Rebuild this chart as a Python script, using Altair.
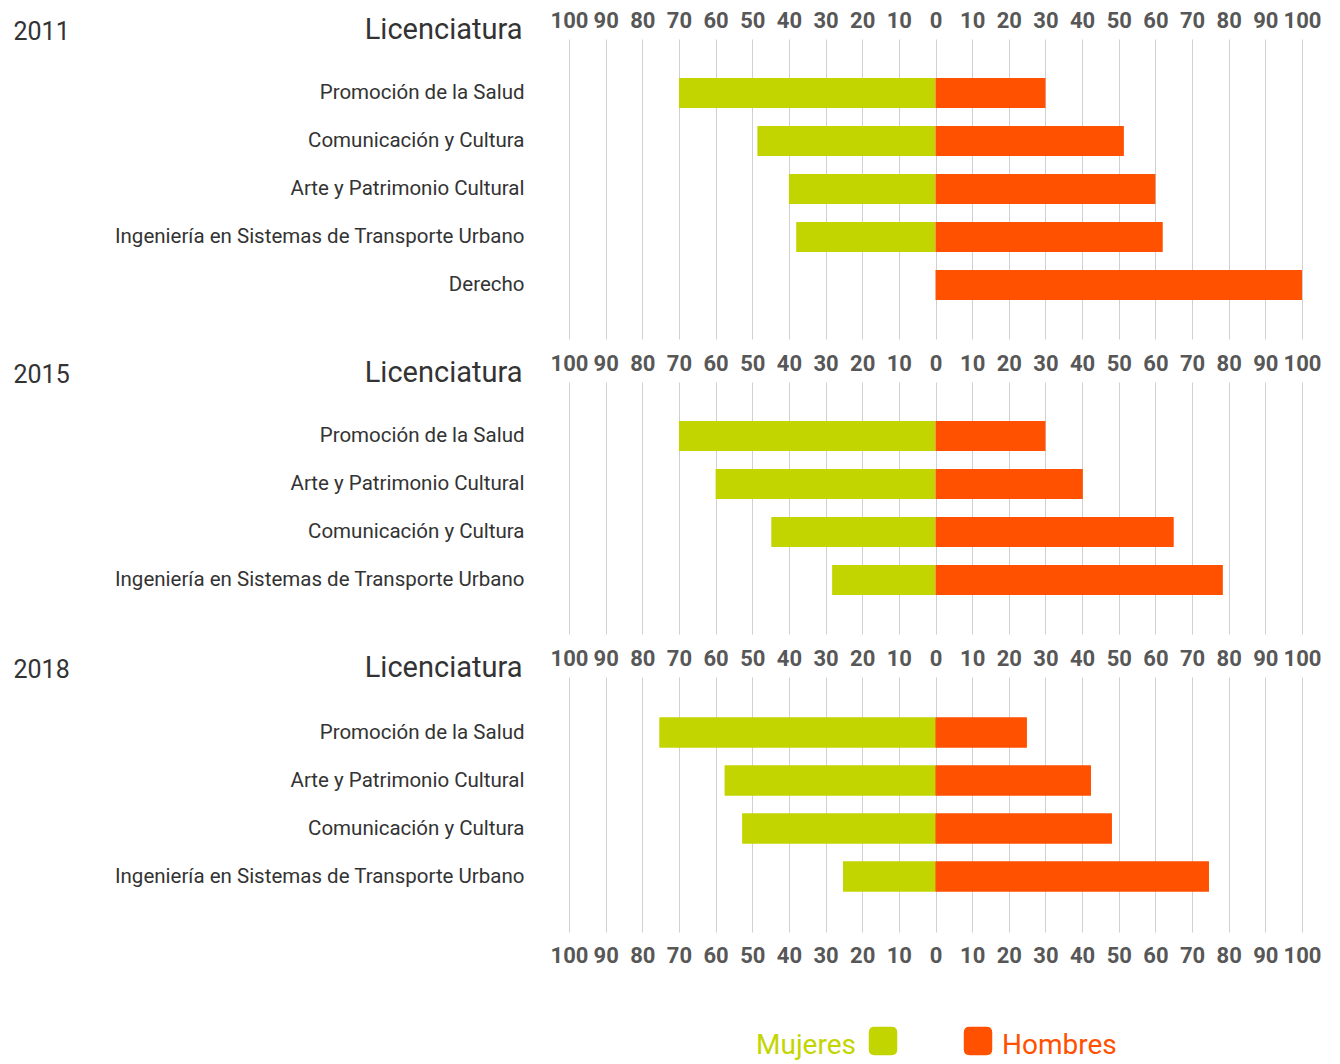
import altair as alt
import pandas as pd

# ---------------- data ----------------
SEXOS = ["Mujeres", "Hombres"]
COLORES = ["#C3D500", "#FF5100"]

LIC_2011 = ["Promoción de la Salud", "Comunicación y Cultura", "Arte y Patrimonio Cultural",
            "Ingeniería en Sistemas de Transporte Urbano", "Derecho"]
MUJ_2011 = [70, 48.6, 40, 38, 0]
HOM_2011 = [30, 51.4, 60, 62, 100]

LIC_2015 = ["Promoción de la Salud", "Arte y Patrimonio Cultural", "Comunicación y Cultura",
            "Ingeniería en Sistemas de Transporte Urbano"]
MUJ_2015 = [70, 60, 44.8, 28.2]
HOM_2015 = [30, 40.2, 65, 78.4]

LIC_2018 = ["Promoción de la Salud", "Arte y Patrimonio Cultural", "Comunicación y Cultura",
            "Ingeniería en Sistemas de Transporte Urbano"]
MUJ_2018 = [75.3, 57.5, 52.7, 25.2]
HOM_2018 = [24.9, 42.4, 48.1, 74.6]

TICKS = list(range(-100, 101, 10))

FONT = "Roboto"
GRID = "#d0d0d0"
TICK_COLOR = "#575757"
TEXT_COLOR = "#333333"


def top_axis(year):
    return alt.Axis(orient="top", values=TICKS, labelExpr="abs(datum.value)",
                    grid=True, gridColor=GRID, gridWidth=1, domain=False, ticks=False,
                    tickSize=0, labelPadding=7, labelFont=FONT, labelFontSize=22,
                    labelFontWeight="bold", labelColor=TICK_COLOR, labelOverlap=False,
                    labelFlush=False,
                    title=year, titleX=-556, titleY=0, titleAlign="left", titleAngle=0,
                    titleBaseline="alphabetic", titleFont=FONT, titleFontSize=25,
                    titleFontWeight="normal", titleColor=TEXT_COLOR)


def bottom_axis():
    return alt.Axis(orient="bottom", values=TICKS, labelExpr="abs(datum.value)",
                    grid=False, domain=False, ticks=False, tickSize=0, labelPadding=13,
                    labelFont=FONT, labelFontSize=22, labelFontWeight="bold",
                    labelColor=TICK_COLOR, labelOverlap=False, labelFlush=False, title="")


def y_axis():
    return alt.Axis(title="Licenciatura", titleX=-47, titleY=-1, titleAlign="right",
                    titleAngle=0, titleBaseline="alphabetic", titleFont=FONT,
                    titleFontSize=29, titleFontWeight="normal", titleColor=TEXT_COLOR,
                    labelPadding=45, labelFont=FONT, labelFontSize=20.5, labelColor=TEXT_COLOR,
                    labelLimit=0, domain=False, ticks=False, tickSize=0, grid=False)


def panel(year, lics, muj, hom, with_bottom=False):
    df = pd.DataFrame({
        "lic": list(lics) * 2,
        "sexo": ["Mujeres"] * len(lics) + ["Hombres"] * len(lics),
        "valor": list(muj) + list(hom),
    })
    base = alt.Chart(df).transform_calculate(
        x_ini="datum.sexo == 'Mujeres' ? -datum.valor : 0",
        x_fin="datum.sexo == 'Mujeres' ? 0 : datum.valor",
    )
    xscale = alt.Scale(domain=[-100, 100], nice=False, zero=False)
    color = alt.Color("sexo:N", scale=alt.Scale(domain=SEXOS, range=COLORES), legend=None)
    if not with_bottom:
        yscale = alt.Scale(paddingInner=0.375, paddingOuter=0.8125)
        return base.mark_bar().encode(
            x=alt.X("x_ini:Q", scale=xscale, axis=top_axis(year)),
            x2="x_fin:Q",
            y=alt.Y("lic:N", sort=list(lics), scale=yscale, axis=y_axis()),
            color=color,
        ).properties(width=733, height=alt.Step(48))
    yscale = alt.Scale(paddingInner=0.375, paddingOuter=0.84375)
    bars = base.mark_bar().encode(
        x=alt.X("x_ini:Q", scale=xscale, axis=top_axis(year)),
        x2="x_fin:Q",
        y=alt.Y("lic:N", sort=list(lics), scale=yscale, axis=y_axis()),
        color=color,
    )
    bars2 = base.mark_bar().encode(
        x=alt.X("x_ini:Q", scale=xscale, axis=bottom_axis()),
        x2="x_fin:Q",
        y=alt.Y("lic:N", sort=list(lics), scale=yscale, axis=None),
        color=color,
    )
    return alt.layer(bars, bars2).resolve_axis(x="independent", y="independent").properties(
        width=733, height=255)


# legend (custom: label left of swatch for Mujeres, right for Hombres)
ROUNDED = ("M -0.6,-1 L 0.6,-1 Q 1,-1 1,-0.6 L 1,0.6 Q 1,1 0.6,1 L -0.6,1 "
           "Q -1,1 -1,0.6 L -1,-0.6 Q -1,-1 -0.6,-1 Z")
leg_df = pd.DataFrame({"sexo": SEXOS})
leg_x = alt.X("sexo:N", sort=SEXOS, axis=None,
              scale=alt.Scale(domain=SEXOS, range=[314, 409], padding=0))
leg_color = alt.Color("sexo:N", scale=alt.Scale(domain=SEXOS, range=COLORES), legend=None)
leg_base = alt.Chart(leg_df).encode(x=leg_x, color=leg_color)
swatch = leg_base.mark_point(shape=ROUNDED, size=810, filled=True, opacity=1)
txt_m = leg_base.transform_filter("datum.sexo == 'Mujeres'").mark_text(
    align="right", baseline="alphabetic", dx=-27, dy=13, font=FONT, fontSize=28
).encode(text="sexo:N")
txt_h = leg_base.transform_filter("datum.sexo == 'Hombres'").mark_text(
    align="left", baseline="alphabetic", dx=24, dy=13, font=FONT, fontSize=28
).encode(text="sexo:N")
legend = alt.layer(swatch, txt_m, txt_h).properties(width=733, height=124)

chart = alt.vconcat(
    panel("2011", LIC_2011, MUJ_2011, HOM_2011),
    panel("2015", LIC_2015, MUJ_2015, HOM_2015),
    panel("2018", LIC_2018, MUJ_2018, HOM_2018, with_bottom=True),
    legend,
    spacing=13,
).properties(
    padding={"left": 5, "top": 1, "right": 5, "bottom": 0},
    background="white",
).configure_view(stroke=None)

chart.save("out.html", embed_options={"renderer": "svg", "actions": False})
